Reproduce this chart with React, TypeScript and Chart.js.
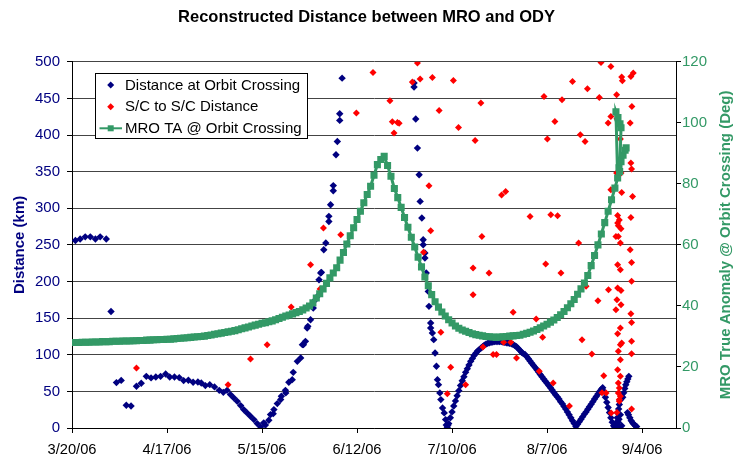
import React, { useEffect, useRef } from "react";
import { Chart, registerables } from "chart.js";

Chart.register(...registerables);

const FONT = "'Liberation Sans', Arial, sans-serif";
const NAVY = "#000080";
const RED = "#FF0000";
const GREEN = "#339966";

const chartTitle = "Reconstructed Distance between MRO and ODY";
const leftAxisTitle = "Distance (km)";
const rightAxisTitle = "MRO True Anomaly @ Orbit Crossing (Deg)";
const seriesNames = ["Distance at Orbit Crossing", "S/C to S/C Distance", "MRO TA @ Orbit Crossing"];

// x values are days after 3/20/06
const xTickDays = [0, 28, 56, 84, 112, 140, 168];
const xTickLabels = ["3/20/06", "4/17/06", "5/15/06", "6/12/06", "7/10/06", "8/7/06", "9/4/06"];
const xMaxDay = 178;

// Distance at Orbit Crossing [day, km]
const crossingDistance: [number, number][] = [
  [1.0, 256], [2.4, 258], [3.9, 261], [5.4, 261], [6.9, 258], [8.3, 261], [10.1, 258],
  [11.5, 159], [13.1, 62], [14.5, 65], [16.0, 31], [17.4, 30], [19.0, 57], [20.4, 61],
  [21.9, 70.5], [23.3, 68.4], [24.7, 69.7], [26.1, 70.5], [27.6, 73.8], [28.8, 69.7], [30.2, 69.7],
  [31.6, 68.8], [32.9, 64.7], [34.3, 65.1], [35.7, 62.4], [37.1, 62.9], [38.1, 61.5], [39.3, 57.9],
  [40.6, 59.2], [42.0, 56.1], [43.4, 51.4], [44.6, 48.7], [45.7, 51.4], [46.7, 45.6], [47.7, 41.1],
  [48.7, 36.4], [49.7, 30.6], [50.6, 25.1], [51.6, 20.6], [52.6, 16], [53.6, 11.5], [54.6, 6], [55.6, 1.5],
  [56.5, 7], [57.0, 4], [58.0, 10.5], [58.5, 18.3], [59.3, 19.6], [59.5, 25.1], [60.5, 33.3],
  [61.5, 38.8], [61.7, 43.3], [62.9, 51.4], [63.0, 47.9], [63.9, 62.4], [64.9, 66], [65.2, 76],
  [66.4, 91], [67.4, 95.7], [67.9, 113.8], [68.2, 113.8], [68.8, 118.3], [69.3, 136.6], [69.5, 138.8],
  [70.3, 147.9], [71.1, 163.9], [71.8, 175.4], [72.3, 179.7], [72.8, 202.5], [73.3, 211.7], [73.5, 212.5],
  [74.2, 243.4], [74.8, 252.6], [75.7, 289], [75.7, 282], [76.2, 304.9], [77.0, 331], [77.0, 324],
  [77.8, 373.1], [78.2, 391.2], [78.9, 429], [78.9, 420], [79.6, 477.7],
  [100.8, 471], [100.8, 465.5], [101.3, 421.8], [101.8, 382.2], [102.3, 345.8], [102.6, 309.4],
  [103.1, 286.7], [103.5, 257.1], [103.5, 250.3], [104.0, 238.9], [104.0, 232.1], [104.4, 211.7],
  [105.0, 186.5], [105.2, 166.1], [105.7, 143.4], [105.7, 136.6], [106.2, 129.8], [106.6, 120.6],
  [107.0, 102.5], [107.4, 84.3], [107.7, 66], [108.0, 59.2], [108.4, 47.9], [108.7, 38.8],
  [109.2, 27.4], [109.7, 20.6], [110.1, 11.5], [110.3, 4], [110.6, 1], [110.8, 4],
  [111.0, 6], [111.5, 14], [112.0, 22], [112.5, 30], [113.0, 37], [113.5, 44], [114.0, 51],
  [114.5, 58], [115.0, 64.5], [115.5, 70], [116.0, 76], [116.5, 81], [117.0, 86], [117.5, 91],
  [118.0, 95], [118.5, 99], [119.0, 102], [119.5, 105], [120.0, 107], [120.5, 109], [121.0, 111],
  [121.5, 113], [122.0, 114.5], [122.5, 115.5], [123.0, 116.5], [123.5, 117], [124.0, 117.5],
  [124.5, 118], [125.0, 118], [125.5, 118], [126.0, 118], [126.5, 118], [127.0, 117.5], [127.5, 117],
  [128.0, 116.5], [128.5, 116], [129.0, 115.5], [129.5, 115], [130.0, 114], [130.5, 112.5],
  [131.0, 111], [131.5, 108.5], [132.0, 106], [132.5, 103.5], [133.0, 101.5], [133.5, 100.5],
  [134.0, 97.5], [134.5, 94.5], [135.0, 91.5], [135.5, 88.5], [136.0, 85.5], [136.5, 82.5],
  [137.0, 79.5], [137.5, 76.5], [138.0, 73], [138.5, 70], [139.0, 67], [139.5, 64], [140.0, 61],
  [140.5, 58], [141.0, 55], [141.5, 52], [142.0, 48.5], [142.5, 45.5], [143.0, 42.5], [143.5, 39.5],
  [144.0, 36], [144.5, 33], [145.0, 29.5], [145.5, 26], [146.0, 22], [146.5, 18], [147.0, 14],
  [147.5, 10], [148.0, 6], [148.5, 2], [149.0, 5], [149.5, 8.5], [150.0, 12], [150.5, 15.5],
  [151.0, 19], [151.5, 22], [152.0, 25.5], [152.5, 29], [153.0, 32.5], [153.5, 36], [154.0, 39.5],
  [154.5, 43], [155.0, 46.5], [155.5, 50], [156.0, 53], [156.4, 55], [156.8, 50], [157.2, 42],
  [157.6, 35], [158.0, 28], [158.4, 21], [158.8, 14], [159.2, 8], [159.6, 3],
  [160.0, 1], [160.2, 5], [160.3, 0], [160.5, 8], [160.6, 2], [160.7, 14], [160.8, 4], [160.9, 20],
  [161.0, 8], [161.1, 26], [161.2, 12], [161.3, 32], [161.4, 0], [161.5, 38], [161.6, 18],
  [161.8, 40], [162.0, 3], [162.3, 42], [162.6, 48], [162.9, 54], [163.2, 59], [163.5, 63],
  [163.8, 67], [164.1, 70.5],
  [163.7, 21], [164.0, 18], [164.4, 14], [164.8, 10], [165.2, 7], [165.6, 5], [166.0, 3], [166.4, 2],
];

// S/C to S/C Distance [day, km]
const scDistance: [number, number][] = [
  [19.0, 82], [46.0, 59.2], [52.6, 94.3], [57.5, 113.8], [64.6, 165.2], [70.3, 223], [73.1, 189.8],
  [74.1, 273], [79.2, 264], [83.8, 430], [88.7, 485.4], [93.7, 446.8], [94.4, 418], [95.9, 417],
  [96.4, 416], [94.9, 402.7], [101.8, 498.2], [100.3, 472.3], [102.6, 476.4], [106.2, 478.6],
  [105.2, 330.8], [105.7, 269.4], [108.2, 433.5], [112.4, 474.5], [113.9, 410.3], [118.8, 392.6],
  [120.5, 443.6], [120.8, 261.6], [126.6, 318.1], [127.8, 323], [135.0, 288.9], [139.1, 452.6],
  [140.1, 394.5], [141.1, 291.2], [143.1, 289.8], [142.3, 418.5], [144.4, 448.1], [147.5, 473.1],
  [149.8, 400.4], [151.2, 391.2], [151.9, 463.2], [155.4, 451.3], [155.9, 499], [158.8, 493.6],
  [158.8, 425.4], [158.0, 416.3], [160.5, 455], [160.6, 422.2], [162.0, 479.1], [162.2, 474.1],
  [161.6, 394.5], [161.8, 348.1], [160.5, 348], [158.8, 325.3], [162.0, 321.6], [164.7, 479.9],
  [165.4, 484.6], [165.0, 439], [164.5, 416.3], [164.7, 361.8], [164.9, 353.6], [165.2, 316.2],
  [164.7, 287.5], [160.8, 290], [161.3, 284], [161.0, 276], [161.8, 272], [160.8, 280], [161.0, 261.6],
  [103.6, 239.8], [108.7, 130.6], [110.6, 46.9], [111.6, 82.8], [116.0, 59.2], [118.2, 182],
  [118.2, 218.5], [121.1, 110.7], [122.9, 211.6], [124.1, 100.2], [125.1, 100.2], [127.2, 117],
  [129.3, 117], [130.0, 157.9], [131.0, 95.7], [136.8, 148.9], [137.7, 77.4], [138.7, 123.8],
  [139.6, 223.9], [141.8, 61.5], [144.1, 211.6], [146.6, 30], [149.3, 252.6], [150.3, 120.6],
  [151.5, 193.4], [153.2, 101.1], [155.0, 173.9], [156.7, 71.5], [156.2, 48], [157.4, 47.9],
  [158.1, 188.9], [158.9, 20.6], [160.3, 261.6], [161.6, 252.6], [160.8, 223], [161.6, 216.2],
  [160.8, 191.2], [161.8, 187.9], [160.6, 175.2], [161.8, 168.4], [160.3, 161.6], [161.6, 136.6],
  [160.8, 128.8], [161.6, 113.8], [162.0, 116.1], [161.0, 104.7], [161.6, 93.3], [160.8, 79.7],
  [161.6, 70.5], [161.0, 61.5], [161.3, 54.7], [161.0, 47.9], [161.6, 43.3], [161.3, 38.8],
  [160.6, 21], [161.3, 36.4], [164.5, 243.4], [164.9, 226.1], [164.9, 200.2], [164.7, 156.1],
  [164.9, 144.2], [164.9, 118.3], [164.9, 101.5], [164.9, 26.1],
];

// MRO TA @ Orbit Crossing [day, deg]
const mroTrueAnomaly: [number, number][] = [
  [0, 28.0], [1, 28.0], [2, 28.0], [3, 28.1], [4, 28.1], [5, 28.1], [6, 28.2], [7, 28.2], [8, 28.2],
  [9, 28.3], [10, 28.3], [11, 28.3], [12, 28.4], [13, 28.4], [14, 28.4], [15, 28.5], [16, 28.5],
  [17, 28.5], [18, 28.6], [19, 28.6], [20, 28.7], [21, 28.7], [22, 28.8], [23, 28.8], [24, 28.9],
  [25, 28.9], [26, 29.0], [27, 29.0], [28, 29.1], [29, 29.1], [30, 29.2], [31, 29.3], [32, 29.4],
  [33, 29.5], [34, 29.6], [35, 29.7], [36, 29.8], [37, 29.9], [38, 30.0], [39, 30.1], [40, 30.3],
  [41, 30.5], [42, 30.7], [43, 30.9], [44, 31.1], [45, 31.3], [46, 31.5], [47, 31.7], [48, 31.9],
  [49, 32.2], [50, 32.5], [51, 32.8], [52, 33.1], [53, 33.4], [54, 33.7], [55, 34.0], [56, 34.3],
  [57, 34.5], [58, 34.8], [59, 35.1], [60, 35.5], [61, 35.9], [62, 36.3], [63, 36.7], [64, 37.0],
  [65, 37.4], [66, 37.8], [67, 38.2], [68, 38.7], [69, 39.3], [70, 40.0], [71, 41.0], [72, 42.6],
  [73, 44.0], [74, 45.6], [75, 47.4], [76, 49.2], [77, 50.8], [78, 52.5], [79, 55.0], [80, 57.5],
  [81, 60.3], [82, 63.0], [83, 65.6], [84, 68.3], [85, 71.0], [86, 73.8], [87, 76.5], [88, 79.2],
  [89, 82.8], [90, 86.3], [91, 88.0], [92, 89.0], [93, 86.0], [94, 82.5], [95, 78.5], [96, 75.5],
  [97, 72.3], [98, 69.0], [99, 65.8], [100, 62.5], [101, 59.3], [102, 56.0], [103, 52.8], [104, 49.5],
  [105, 46.6], [106, 43.7], [107, 41.4], [108, 39.6], [109, 38.0], [110, 36.7], [111, 35.5],
  [112, 34.4], [113, 33.4], [114, 32.7], [115, 32.1], [116, 31.7], [117, 31.3], [118, 30.9],
  [119, 30.6], [120, 30.4], [121, 30.2], [122, 30.0], [123, 29.9], [124, 29.8], [125, 29.7],
  [126, 29.8], [127, 29.9], [128, 30.0], [129, 30.1], [130, 30.2], [131, 30.3], [132, 30.4],
  [133, 30.7], [134, 31.0], [135, 31.4], [136, 31.8], [137, 32.3], [138, 32.8], [139, 33.4],
  [140, 34.0], [141, 34.7], [142, 35.4], [143, 36.2], [144, 37.1], [145, 38.2], [146, 39.4],
  [147, 40.7], [148, 42.1], [149, 43.8], [150, 45.6], [151, 47.5], [152, 50.0], [153, 53.2],
  [154, 56.5], [155, 60.0], [156, 63.6], [157, 67.3], [158, 71.0], [159, 74.8], [160, 78.6],
  [160.8, 81.9], [160.3, 103.6], [160.9, 101.7], [161.5, 99.7], [161.8, 98.4], [161.4, 84],
  [161.2, 85.3], [161.8, 87.3], [162.4, 89.4], [163.0, 91.0], [163.3, 91.8],
];

const toXY = (pts: [number, number][]) => pts.map(([x, y]) => ({ x, y }));

function drawDiamond(ctx: CanvasRenderingContext2D, x: number, y: number, r: number, color: string) {
  ctx.beginPath();
  ctx.moveTo(x, y - r);
  ctx.lineTo(x + r, y);
  ctx.lineTo(x, y + r);
  ctx.lineTo(x - r, y);
  ctx.closePath();
  ctx.fillStyle = color;
  ctx.fill();
}

const overlayPlugin = {
  id: "overlay",
  afterDatasetsDraw(chart: any) {
    const ctx: CanvasRenderingContext2D = chart.ctx;
    ctx.save();
    // legend box
    const bx = 95.5, by = 73.5, bw = 212, bh = 65;
    ctx.fillStyle = "#ffffff";
    ctx.fillRect(bx, by, bw, bh);
    ctx.strokeStyle = "#000000";
    ctx.lineWidth = 1;
    ctx.strokeRect(bx, by, bw, bh);
    const rows = [85, 106.7, 128.3];
    const mx = 110.7;
    drawDiamond(ctx, mx, rows[0], 3.5, NAVY);
    drawDiamond(ctx, mx, rows[1], 3.5, RED);
    ctx.strokeStyle = GREEN;
    ctx.lineWidth = 2;
    ctx.beginPath();
    ctx.moveTo(99.5, rows[2]);
    ctx.lineTo(122, rows[2]);
    ctx.stroke();
    ctx.fillStyle = GREEN;
    ctx.fillRect(mx - 3, rows[2] - 3, 6, 6);
    ctx.fillStyle = "#000000";
    ctx.font = `15px ${FONT}`;
    ctx.textBaseline = "middle";
    ctx.textAlign = "left";
    seriesNames.forEach((name, i) => ctx.fillText(name, 125, rows[i] + 0.5));

    // right axis title, reading bottom to top
    const area = chart.chartArea;
    ctx.translate(726, (area.top + area.bottom) / 2);
    ctx.rotate(-Math.PI / 2);
    ctx.font = `bold 15px ${FONT}`;
    ctx.fillStyle = GREEN;
    ctx.textAlign = "center";
    ctx.textBaseline = "middle";
    ctx.fillText(rightAxisTitle, 0, 0);
    ctx.restore();
  },
};

export default function App() {
  const canvasRef = useRef<HTMLCanvasElement | null>(null);

  useEffect(() => {
    const canvas = canvasRef.current;
    if (!canvas) return;
    const chart = new Chart(canvas, {
      type: "scatter",
      data: {
        datasets: [
          {
            label: seriesNames[0],
            data: toXY(crossingDistance),
            yAxisID: "y",
            pointStyle: "rectRot",
            pointRadius: 3.7,
            pointBackgroundColor: NAVY,
            pointBorderWidth: 0,
            borderColor: NAVY,
            backgroundColor: NAVY,
            showLine: false,
            order: 2,
          },
          {
            label: seriesNames[1],
            data: toXY(scDistance),
            yAxisID: "y",
            pointStyle: "rectRot",
            pointRadius: 3.5,
            pointBackgroundColor: RED,
            pointBorderWidth: 0,
            borderColor: RED,
            backgroundColor: RED,
            showLine: false,
            order: 1,
          },
          {
            label: seriesNames[2],
            data: toXY(mroTrueAnomaly),
            yAxisID: "y2",
            pointStyle: "rect",
            pointRadius: 5,
            pointBackgroundColor: GREEN,
            pointBorderWidth: 0,
            borderColor: GREEN,
            backgroundColor: GREEN,
            borderWidth: 3,
            showLine: true,
            order: 0,
          },
        ],
      },
      options: {
        animation: false,
        responsive: false,
        devicePixelRatio: 1,
        layout: { padding: 0 },
        plugins: {
          legend: { display: false },
          tooltip: { enabled: false },
          title: {
            display: true,
            text: chartTitle,
            color: "#000000",
            font: { family: FONT, size: 16.5, weight: "bold", lineHeight: 1.2 },
            padding: { top: 8, bottom: 34 },
          },
        },
        scales: {
          x: {
            type: "linear",
            position: "bottom",
            min: 0,
            max: xMaxDay,
            afterBuildTicks: (axis: any) => {
              axis.ticks = xTickDays.map((v) => ({ value: v }));
            },
            afterFit: (axis: any) => {
              axis.height = 30;
            },
            ticks: {
              autoSkip: false,
              maxRotation: 0,
              minRotation: 0,
              padding: 8,
              color: "#000000",
              font: { family: FONT, size: 14.7 },
              callback: (value: any) => {
                const i = xTickDays.indexOf(Number(value));
                return i >= 0 ? xTickLabels[i] : "";
              },
            },
            grid: { drawOnChartArea: false, drawTicks: true, tickLength: 5, tickColor: "#000000" },
            border: { display: true, color: "#000000", width: 1 },
          },
          y: {
            type: "linear",
            position: "left",
            min: 0,
            max: 500,
            afterFit: (axis: any) => {
              axis.width = 72;
            },
            ticks: {
              stepSize: 50,
              padding: 7,
              color: NAVY,
              font: { family: FONT, size: 15 },
            },
            grid: { color: "#444444", lineWidth: 1, tickLength: 5, tickColor: "#000000" },
            border: { display: true, color: "#000000", width: 1 },
            title: {
              display: true,
              text: leftAxisTitle,
              color: NAVY,
              font: { family: FONT, size: 15, weight: "bold", lineHeight: 1.2 },
              padding: { top: 11, bottom: 0 },
            },
          },
          y2: {
            type: "linear",
            position: "right",
            min: 0,
            max: 120,
            afterFit: (axis: any) => {
              axis.width = 57;
            },
            ticks: {
              stepSize: 20,
              padding: 1,
              color: GREEN,
              font: { family: FONT, size: 15 },
            },
            grid: { drawOnChartArea: false, tickLength: 5, tickColor: "#000000" },
            border: { display: true, color: "#000000", width: 1 },
          },
        },
      },
      plugins: [overlayPlugin],
    } as any);
    return () => chart.destroy();
  }, []);

  return (
    <div style={{ position: "fixed", left: 0, top: 0, width: 733, height: 458, background: "#ffffff" }}>
      <canvas ref={canvasRef} width={733} height={458} />
    </div>
  );
}
